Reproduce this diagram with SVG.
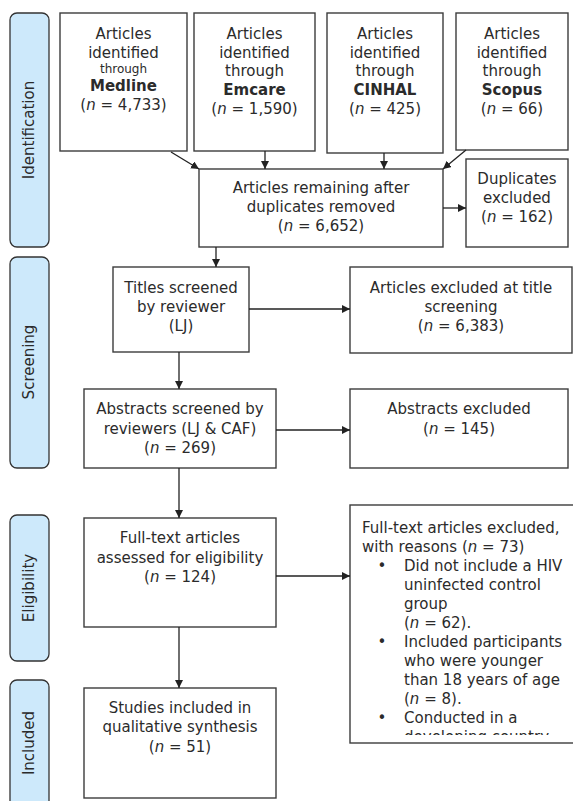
<svg xmlns="http://www.w3.org/2000/svg" width="573" height="801" viewBox="0 0 573 801">
<style>
text{font-family:"DejaVu Sans","Liberation Sans",sans-serif;font-size:15px;fill:#2b2b2b}
.c{text-anchor:middle}
.box{fill:#fff;stroke:#3c3c3c;stroke-width:1.4}
.bar{fill:#cde9fb;stroke:#333;stroke-width:1.3}
.lbl{text-anchor:middle;font-size:15px}
.conn{stroke:#222;stroke-width:1.3;fill:none;marker-end:url(#ah)}
.b{font-weight:bold}
</style>
<defs>
<marker id="ah" viewBox="0 0 10 10" refX="10" refY="5" markerWidth="8" markerHeight="8" markerUnits="userSpaceOnUse" orient="auto">
<path d="M0,0 L10,5 L0,10 z" fill="#222"/>
</marker>
<clipPath id="clipEx"><rect x="350" y="505" width="223" height="230"/></clipPath>
</defs>
<rect width="573" height="801" fill="#fff"/>

<g id="phase-identification"><rect class="bar" x="10" y="13" width="39" height="234" rx="7"/><text class="lbl" transform="translate(34,130) rotate(-90)">Identification</text></g>
<g id="phase-screening"><rect class="bar" x="10" y="257" width="39" height="211" rx="7"/><text class="lbl" transform="translate(34,362) rotate(-90)">Screening</text></g>
<g id="phase-eligibility"><rect class="bar" x="10" y="515" width="39" height="146" rx="7"/><text class="lbl" transform="translate(34,588) rotate(-90)">Eligibility</text></g>
<g id="phase-included"><rect class="bar" x="10" y="680" width="39" height="130" rx="7"/><text class="lbl" transform="translate(34,743) rotate(-90)">Included</text></g>

<g id="medline"><rect class="box" x="60" y="13" width="127" height="138"/>
<text class="c" x="123.5" y="39">Articles</text><text class="c" x="123.5" y="58">identified</text><text class="c" x="123.5" y="73" style="font-size:12px">through</text><text class="c b" x="123.5" y="91">Medline</text><text class="c" x="123.5" y="110">(<tspan font-style="italic">n</tspan> = 4,733)</text></g>

<g id="emcare"><rect class="box" x="194" y="13" width="121" height="138"/>
<text class="c" x="254.5" y="39">Articles</text><text class="c" x="254.5" y="58">identified</text><text class="c" x="254.5" y="76">through</text><text class="c b" x="254.5" y="95">Emcare</text><text class="c" x="254.5" y="114">(<tspan font-style="italic">n</tspan> = 1,590)</text></g>

<g id="cinhal"><rect class="box" x="327" y="13" width="116" height="140"/>
<text class="c" x="385" y="39">Articles</text><text class="c" x="385" y="58">identified</text><text class="c" x="385" y="76">through</text><text class="c b" x="385" y="95">CINHAL</text><text class="c" x="385" y="114">(<tspan font-style="italic">n</tspan> = 425)</text></g>

<g id="scopus"><rect class="box" x="456" y="13" width="112" height="137"/>
<text class="c" x="512" y="39">Articles</text><text class="c" x="512" y="58">identified</text><text class="c" x="512" y="76">through</text><text class="c b" x="512" y="95">Scopus</text><text class="c" x="512" y="114">(<tspan font-style="italic">n</tspan> = 66)</text></g>

<g id="remaining"><rect class="box" x="199" y="169" width="244" height="78"/>
<text class="c" x="321" y="193">Articles remaining after</text><text class="c" x="321" y="212">duplicates removed</text><text class="c" x="321" y="231">(<tspan font-style="italic">n</tspan> = 6,652)</text></g>

<g id="duplicates"><rect class="box" x="466" y="159" width="102" height="88"/>
<text class="c" x="517" y="184">Duplicates</text><text class="c" x="517" y="203">excluded</text><text class="c" x="517" y="222">(<tspan font-style="italic">n</tspan> = 162)</text></g>

<g id="titles"><rect class="box" x="113" y="267" width="136" height="85"/>
<text class="c" x="181" y="293">Titles screened</text><text class="c" x="181" y="312">by reviewer</text><text class="c" x="181" y="331">(LJ)</text></g>

<g id="title-excluded"><rect class="box" x="350" y="267" width="222" height="86"/>
<text class="c" x="461" y="293">Articles excluded at title</text><text class="c" x="461" y="312">screening</text><text class="c" x="461" y="331">(<tspan font-style="italic">n</tspan> = 6,383)</text></g>

<g id="abstracts"><rect class="box" x="84" y="389" width="192" height="79"/>
<text class="c" x="180" y="414">Abstracts screened by</text><text class="c" x="180" y="434">reviewers (LJ &amp; CAF)</text><text class="c" x="180" y="453">(<tspan font-style="italic">n</tspan> = 269)</text></g>

<g id="abstracts-excluded"><rect class="box" x="350" y="389" width="218" height="79"/>
<text class="c" x="459" y="414">Abstracts excluded</text><text class="c" x="459" y="434">(<tspan font-style="italic">n</tspan> = 145)</text></g>

<g id="fulltext"><rect class="box" x="84" y="518" width="192" height="109"/>
<text class="c" x="180" y="543">Full-text articles</text><text class="c" x="180" y="563">assessed for eligibility</text><text class="c" x="180" y="582">(<tspan font-style="italic">n</tspan> = 124)</text></g>

<g id="fulltext-excluded"><rect class="box" x="350" y="505" width="230" height="238"/>
<g clip-path="url(#clipEx)">
<text x="362" y="533">Full-text articles excluded,</text>
<text x="362" y="552">with reasons (<tspan font-style="italic">n</tspan> = 73)</text>
<text x="382" y="571" class="c">•</text><text x="404" y="571">Did not include a HIV</text>
<text x="404" y="590">uninfected control</text>
<text x="404" y="609">group</text>
<text x="404" y="628">(<tspan font-style="italic">n</tspan> = 62).</text>
<text x="382" y="647" class="c">•</text><text x="404" y="647">Included participants</text>
<text x="404" y="666">who were younger</text>
<text x="404" y="685">than 18 years of age</text>
<text x="404" y="704">(<tspan font-style="italic">n</tspan> = 8).</text>
<text x="382" y="723" class="c">•</text><text x="404" y="723">Conducted in a</text>
<text x="404" y="742">developing country</text>
</g></g>

<g id="included"><rect class="box" x="84" y="688" width="192" height="110"/>
<text class="c" x="180" y="713">Studies included in</text><text class="c" x="180" y="732">qualitative synthesis</text><text class="c" x="180" y="752">(<tspan font-style="italic">n</tspan> = 51)</text></g>

<g id="connectors">
<line class="conn" x1="171" y1="152" x2="199" y2="169"/>
<line class="conn" x1="265" y1="151" x2="265" y2="169"/>
<line class="conn" x1="384" y1="153" x2="384" y2="169"/>
<line class="conn" x1="466" y1="150" x2="443" y2="169"/>
<line class="conn" x1="443" y1="208" x2="466" y2="208"/>
<line class="conn" x1="216" y1="247" x2="216" y2="267"/>
<line class="conn" x1="249" y1="309" x2="350" y2="309"/>
<line class="conn" x1="179" y1="352" x2="179" y2="389"/>
<line class="conn" x1="276" y1="430" x2="350" y2="430"/>
<line class="conn" x1="179" y1="468" x2="179" y2="518"/>
<line class="conn" x1="276" y1="576" x2="350" y2="576"/>
<line class="conn" x1="179" y1="627" x2="179" y2="688"/>
</g>
</svg>
